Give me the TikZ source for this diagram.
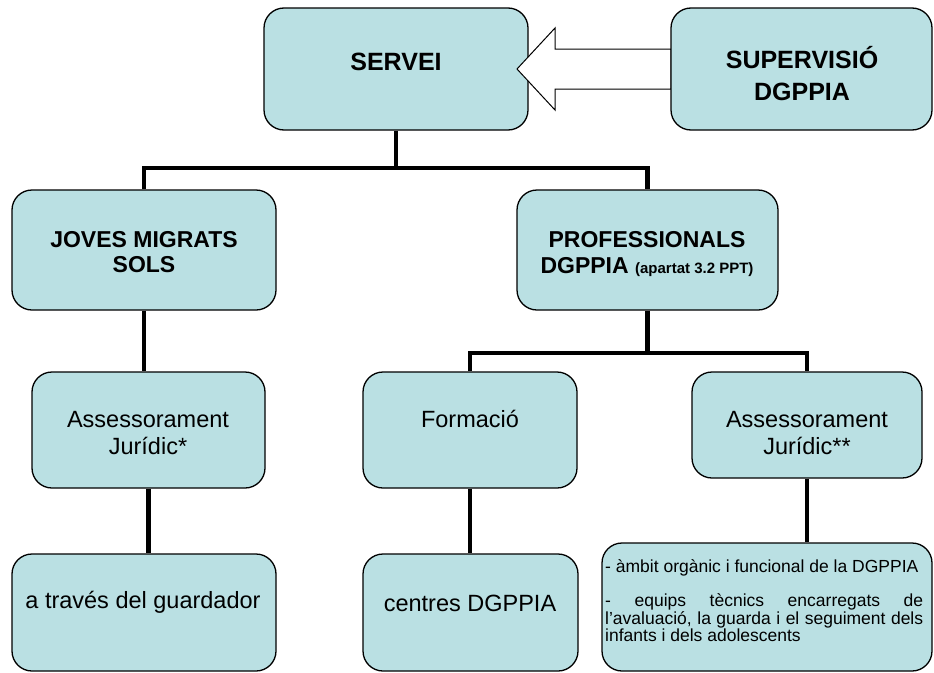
\documentclass[tikz,border=0pt]{standalone}
\usepackage{fontspec}
\setmainfont{Liberation Sans}
\definecolor{boxfill}{RGB}{186,224,227}
\begin{document}
\begin{tikzpicture}[x=1pt,y=-1pt,
  box/.style={draw=black, line width=1.3pt, fill=boxfill, rounded corners=20pt, inner sep=0pt},
  conn/.style={line width=4.5pt, line cap=butt, line join=miter},
  blockarrow/.style={draw=black, line width=1pt, fill=white, line join=miter},
  big/.style={font=\fontsize{25}{32}\bfseries\selectfont, align=center, inner sep=0pt},
  ttl/.style={font=\fontsize{23}{25.5}\bfseries\selectfont, align=center, inner sep=0pt},
  txt/.style={font=\fontsize{23.5}{26.5}\selectfont, align=center, inner sep=0pt},
  small/.style={font=\fontsize{17.5}{15.7}\selectfont, align=justify, text width=318pt, inner sep=0pt},
]
\useasboundingbox (0,0) rectangle (934,672);
% boxes
\node[box, minimum width=264pt, minimum height=122pt] (servei) at (396,69) {};
\draw[blockarrow] (671,49) -- (555,49) -- (555,28) -- (517,69) -- (555,110) -- (555,89) -- (671,89) -- cycle;
\node[box, minimum width=261pt, minimum height=122pt] (superv) at (801.5,69) {};
\node[box, minimum width=264pt, minimum height=120pt] (joves) at (144,250) {};
\node[box, minimum width=261pt, minimum height=120pt] (prof) at (647.5,250) {};
\node[box, minimum width=233pt, minimum height=116pt] (assessL) at (148.5,430) {};
\node[box, minimum width=214pt, minimum height=116pt] (formacio) at (470,430) {};
\node[box, minimum width=230pt, minimum height=106pt] (assessR) at (807,425) {};
\node[box, minimum width=264pt, minimum height=117pt] (traves) at (144,612.5) {};
\node[box, minimum width=215pt, minimum height=117pt] (centres) at (470.5,612.5) {};
\node[box, minimum width=330pt, minimum height=128pt] (ambit) at (767,607) {};
% connectors
\coordinate (bus1) at (0,168);
\coordinate (bus2) at (0,353);
\draw[conn] (servei.south) -- (servei.south |- bus1);
\draw[conn] (joves.north) -- (joves.north |- bus1) -- (prof.north |- bus1) -- (prof.north);
\draw[conn] (prof.south) -- (prof.south |- bus2);
\draw[conn] (formacio.north) -- (formacio.north |- bus2) -- (assessR.north |- bus2) -- (assessR.north);
\draw[conn] (joves.south) -- (joves.south |- assessL.north);
\draw[conn] (assessL.south) -- (assessL.south |- traves.north);
\draw[conn] (formacio.south) -- (formacio.south |- centres.north);
\draw[conn] (assessR.south) -- (assessR.south |- ambit.north);
% texts
\node[big] (tservei) at (396,62) {SERVEI};
\node[big] (tsuperv) at (802,74) {SUPERVISIÓ\\DGPPIA};
\node[ttl] (tjoves) at (144,252) {JOVES MIGRATS\\SOLS};
\node[ttl] (tprof) at (647,254) {PROFESSIONALS\\DGPPIA {\fontsize{15}{15}\selectfont (apartat 3.2 PPT)}};
\node[txt] (tassessL) at (148,433) {Assessorament\\Jurídic*};
\node[txt] (tformacio) at (470,419) {Formació};
\node[txt] (tassessR) at (807,433) {Assessorament\\Jurídic**};
\node[txt] (ttraves) at (143,602) {a través del guardador};
\node[txt] (tcentres) at (470,603) {centres DGPPIA};
\node[small, anchor=north west] (tambit) at (605,559) {\hyphenpenalty=10000
- àmbit orgànic i funcional de la DGPPIA\par\vskip17.3pt
- equips tècnics encarregats de\linebreak l’avaluació, la guarda i el seguiment dels\linebreak infants i dels adolescents};
\end{tikzpicture}
\end{document}
